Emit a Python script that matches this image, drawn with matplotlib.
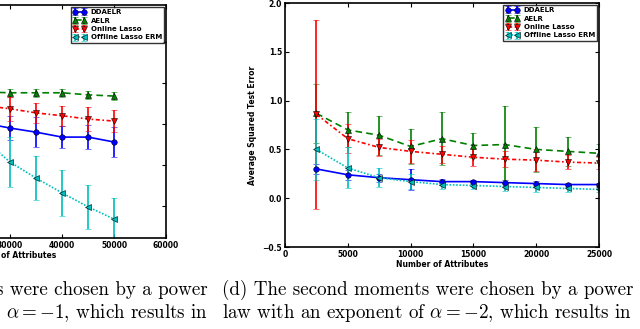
import matplotlib
matplotlib.use('Agg')
import matplotlib.pyplot as plt

## left panel (alpha = -1), only its right part shows in the crop
left_x = [25000, 30000, 35000, 40000, 45000, 50000]
left_ddaelr = [0.302, 0.290, 0.280, 0.268, 0.268, 0.256]
left_ddaelr_err = [0.030, 0.029, 0.037, 0.027, 0.029, 0.037]
left_aelr = [0.378, 0.376, 0.376, 0.376, 0.371, 0.368]
left_aelr_err = [0.010, 0.010, 0.010, 0.010, 0.010, 0.010]
left_online = [0.345, 0.337, 0.327, 0.320, 0.312, 0.307]
left_online_err = [0.030, 0.029, 0.025, 0.025, 0.029, 0.026]
left_offline = [0.262, 0.207, 0.168, 0.132, 0.098, 0.068]
left_offline_err = [0.060, 0.061, 0.054, 0.056, 0.054, 0.051]

## right panel (alpha = -2)
right_x = [2500, 5000, 7500, 10000, 12500, 15000, 17500, 20000, 22500, 25000]
ddaelr = [0.30, 0.24, 0.21, 0.19, 0.17, 0.17, 0.16, 0.15, 0.14, 0.14]
ddaelr_err = [0.05, 0.05, 0.04, 0.11, 0.03, 0.02, 0.03, 0.03, 0.02, 0.02]
aelr = [0.87, 0.70, 0.645, 0.53, 0.61, 0.54, 0.55, 0.50, 0.48, 0.46]
aelr_err = [0.30, 0.18, 0.20, 0.18, 0.27, 0.13, 0.39, 0.23, 0.15, 0.10]
online = [0.86, 0.61, 0.52, 0.48, 0.45, 0.42, 0.40, 0.39, 0.37, 0.36]
online_err = [0.97, 0.15, 0.09, 0.12, 0.09, 0.09, 0.08, 0.11, 0.07, 0.06]
offline = [0.50, 0.31, 0.21, 0.17, 0.14, 0.13, 0.12, 0.11, 0.10, 0.09]
offline_err = [0.31, 0.21, 0.10, 0.08, 0.05, 0.04, 0.05, 0.05, 0.04, 0.03]

labels = ['DDAELR', 'AELR', 'Online Lasso', 'Offline Lasso ERM']
colors = ['#0000ff', '#008000', '#ff0000', '#00bfbf']
styles = ['-', (0, (4, 2.5)), (0, (2.5, 1.5, 1, 1.5)), (0, (1, 1))]
markers = ['o', '^', 'v', '<']

plt.rcParams['font.family'] = 'DejaVu Sans'
plt.rcParams['font.weight'] = 'bold'
plt.rcParams['mathtext.fontset'] = 'cm'

fig = plt.figure(figsize=(6.4, 3.29), dpi=100)


def panel(ax, x, series, errs, xlim, ylim, xticks):
    for y, e, lab, c, ls, m in zip(series, errs, labels, colors, styles, markers):
        ax.errorbar(x, y, yerr=e, color=c, ls=ls, marker=m, ms=4, lw=1.2,
                    mec='k', mew=0.4, elinewidth=1.2, capsize=2, label=lab)
    ax.set_xlim(xlim)
    ax.set_ylim(ylim)
    ax.set_xticks(xticks)
    ax.tick_params(direction='in', length=3, labelsize=5.5, top=True, right=True, pad=2)
    for s in ax.spines.values():
        s.set_linewidth(1.2)
    ax.set_xlabel('Number of Attributes', fontsize=5.5, fontweight='bold', labelpad=1)
    leg = ax.legend(loc='upper right', fontsize=5, numpoints=2, handlelength=2,
                    borderpad=0.3, labelspacing=0.35, handletextpad=0.6,
                    borderaxespad=0.3, fancybox=False)
    leg.get_frame().set_edgecolor('k')
    leg.get_frame().set_linewidth(1.0)
    return ax


ax1 = fig.add_axes([-0.228, 0.2766, 0.4875, 0.7082])
panel(ax1, left_x, [left_ddaelr, left_aelr, left_online, left_offline],
      [left_ddaelr_err, left_aelr_err, left_online_err, left_offline_err],
      (0, 60000), (0.022, 0.590), [0, 10000, 20000, 30000, 40000, 50000, 60000])

ax2 = fig.add_axes([0.4453, 0.2492, 0.4906, 0.7416])
panel(ax2, right_x, [ddaelr, aelr, online, offline],
      [ddaelr_err, aelr_err, online_err, offline_err],
      (0, 25000), (-0.5, 2.0), [0, 5000, 10000, 15000, 20000, 25000])
ax2.set_ylabel('Average Squared Test Error', fontsize=5.5, fontweight='bold', labelpad=4)

cap = dict(family='cmr10', fontsize=13.7, fontweight='normal', va='center')
fig.text(208 / 640, 1 - 290 / 329, 's were chosen by a power', ha='right', **cap)
fig.text(208 / 640, 1 - 313 / 329, r'$\alpha=-1$, which results in', ha='right', **cap)
fig.text(222 / 640, 1 - 290 / 329, '(d) The second moments were chosen by a power', ha='left', **cap)
fig.text(222 / 640, 1 - 313 / 329, r'law with an exponent of $\alpha=-2$, which results in', ha='left', **cap)

fig.savefig('out.png', dpi=100)
